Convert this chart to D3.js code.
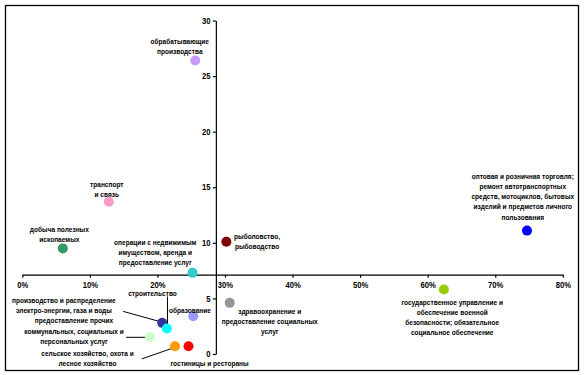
<!DOCTYPE html>
<html>
<head>
<meta charset="utf-8">
<script src="https://cdn.jsdelivr.net/npm/d3@7"></script>
<style>
  body { margin: 0; background: #fff; }
  svg text { font-family: "Liberation Sans", Arial, sans-serif; font-weight: bold; font-size: 8px; fill: #000; }
</style>
</head>
<body>
<svg id="chart" width="585" height="375"></svg>
<script>
// sectors of the economy
const sectors = [
  ["обрабатывающие", "производства"],
  ["транспорт", "и связь"],
  ["добыча полезных", "ископаемых"],
  ["операции с недвижимым", "имуществом, аренда и", "предоставление услуг"],
  ["рыболовство,", "рыбоводство"],
  ["здравоохранение и", "предоставление социальных", "услуг"],
  ["образование"],
  ["производство и распределение", "электро-энергии, газа и воды"],
  ["строительство"],
  ["предоставление прочих", "коммунальных, социальных и", "персональных услуг"],
  ["сельское хозяйство, охота и", "лесное хозяйство"],
  ["гостиницы и рестораны"],
  ["государственное управление и", "обеспечение военной", "безопасности; обязательное", "социальное обеспечение"],
  ["оптовая и розничная торговля;", "ремонт автотранспортных", "средств, мотоциклов, бытовых", "изделий и предметов личного", "пользования"]
];
// x: share, %   y: value
const xShare = [25.6, 12.8, 6.0, 25.2, 30.2, 30.7, 25.3, 20.7, 21.4, 18.9, 22.6, 24.6, 62.4, 74.7];
const yValue = [26.4, 13.7, 9.5, 7.3, 10.1, 4.6, 3.4, 2.8, 2.3, 1.5, 0.7, 0.7, 5.8, 11.1];
const colors = ["#CC99FF", "#FF99CC", "#339966", "#33CCCC", "#800000", "#969696", "#9999FF",
                "#333399", "#00FFFF", "#CCFFCC", "#FF9900", "#FF0000", "#99CC00", "#0000FF"];
const xTicks = [0, 10, 20, 30, 40, 50, 60, 70, 80];
const yTicks = [0, 5, 10, 15, 20, 25, 30];

// label placement relative to marker: [dx, dy of first baseline]
const labelPos = [
  [-15.5, -16.3], [-2, -14.7], [-3.5, -16.3], [-37.3, -28], [30.7, -3], [40, 10.7], [-3.3, -3.3],
  [-98.3, -20], [-14.4, -32.3], [-76, -14], [-87.5, 10], [21, 19.7], [8.3, 15.3], [-4.2, -51.8]
];
// leader lines relative to marker
const leaders = {
  7: [-39, -11.5, -2.3, -1.3],
  8: [0.6, -32, 0.6, -3],
  9: [-24, 0, -3.3, 0],
  10: [-33.3, 12.7, -1.7, 1.7]
};
const lineH = 10.2;
const squeeze = 0.82; // condensed look of the original font

const svg = d3.select("#chart");

svg.append("rect")
  .attr("x", 5.5).attr("y", 5.5)
  .attr("width", 573).attr("height", 365)
  .attr("fill", "#fff").attr("stroke", "#000").attr("stroke-width", 1.3);

const x = d3.scaleLinear().domain([0, 80]).range([22.3, 562.8]);
const y = d3.scaleLinear().domain([0, 30]).range([354, 20.5]);

const xCross = d3.mean(yValue);
const yCross = d3.mean(xShare);

const xAxis = svg.append("g")
  .attr("transform", `translate(0,${y(xCross)})`)
  .call(d3.axisBottom(x).tickValues(xTicks).tickSize(3).tickSizeOuter(0).tickFormat(d => d + "%"));
xAxis.selectAll("text").attr("dy", "0.71em").attr("y", 7);

const yAxis = svg.append("g")
  .attr("transform", `translate(${x(yCross)},0)`)
  .call(d3.axisLeft(y).tickValues(yTicks).tickSize(3).tickSizeOuter(0));
yAxis.selectAll("text").attr("x", -6);

svg.selectAll(".domain, .tick line").attr("stroke", "#000").attr("stroke-width", 1.2);
svg.selectAll(".tick text").style("font-size", "8.5px").attr("transform", "scale(0.9,1)");

const pts = sectors.map((s, i) => ({ name: s, cx: x(xShare[i]), cy: y(yValue[i]), color: colors[i], i }));

// leader lines
Object.entries(leaders).forEach(([k, l]) => {
  const p = pts[k];
  svg.append("line")
    .attr("x1", p.cx + l[0]).attr("y1", p.cy + l[1])
    .attr("x2", p.cx + l[2]).attr("y2", p.cy + l[3])
    .attr("stroke", "#000").attr("stroke-width", 1);
});

svg.append("g").selectAll("circle")
  .data(pts)
  .join("circle")
    .attr("cx", d => d.cx)
    .attr("cy", d => d.cy)
    .attr("r", 5)
    .attr("fill", d => d.color);

const labels = svg.append("g").selectAll("text")
  .data(pts)
  .join("text")
    .attr("text-anchor", "middle")
    .attr("transform", d => `translate(${d.cx + labelPos[d.i][0]},${d.cy + labelPos[d.i][1]}) scale(${squeeze},1)`);

labels.selectAll("tspan")
  .data(d => d.name.map((t, j) => ({ t, j })))
  .join("tspan")
    .attr("x", 0)
    .attr("dy", d => d.j === 0 ? 0 : lineH)
    .text(d => d.t);
</script>
</body>
</html>
